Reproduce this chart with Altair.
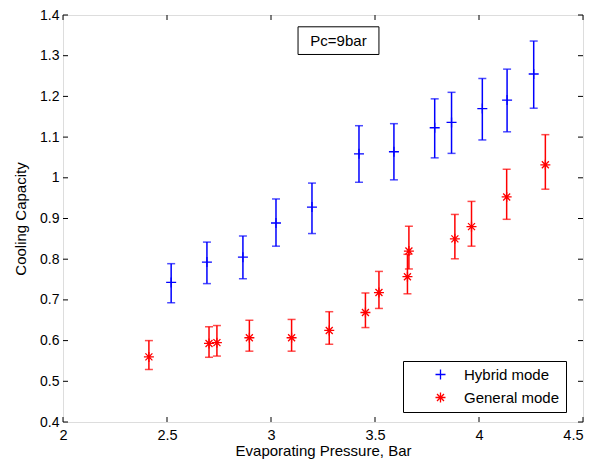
import altair as alt
import pandas as pd

# Hybrid mode (blue)
hyb_x = [2.52, 2.692, 2.865, 3.024, 3.197, 3.423, 3.591, 3.787, 3.868, 4.016, 4.135, 4.263]
hyb_y = [0.743, 0.793, 0.805, 0.889, 0.928, 1.059, 1.064, 1.123, 1.136, 1.170, 1.191, 1.255]
hyb_lo = [0.693, 0.740, 0.752, 0.832, 0.863, 0.989, 0.995, 1.049, 1.060, 1.093, 1.113, 1.171]
hyb_hi = [0.789, 0.842, 0.857, 0.948, 0.987, 1.128, 1.133, 1.194, 1.210, 1.244, 1.267, 1.336]

# General mode (red)
gen_x = [2.413, 2.702, 2.740, 2.896, 3.099, 3.280, 3.454, 3.519, 3.656, 3.663, 3.884, 3.964, 4.133, 4.319]
gen_y = [0.560, 0.593, 0.595, 0.607, 0.607, 0.625, 0.669, 0.718, 0.757, 0.820, 0.850, 0.880, 0.953, 1.032]
gen_lo = [0.529, 0.559, 0.562, 0.574, 0.574, 0.591, 0.632, 0.679, 0.715, 0.776, 0.801, 0.832, 0.898, 0.972]
gen_hi = [0.600, 0.634, 0.637, 0.650, 0.652, 0.671, 0.717, 0.770, 0.812, 0.881, 0.910, 0.942, 1.021, 1.106]

series_names = ["Hybrid mode", "General mode"]
series_colors = ["#0000ff", "#ff0000"]
x_ticks = [2, 2.5, 3, 3.5, 4, 4.5]
y_ticks = [0.4, 0.5, 0.6, 0.7, 0.8, 0.9, 1.0, 1.1, 1.2, 1.3, 1.4]

note_text = ["Pc=9bar"]
note_x = [3.13, 3.519]
note_y = [1.303, 1.371]

FONT = "Liberation Sans"
W, H = 520, 407

rows = []
for name, xs, ys, los, his in [
    (series_names[0], hyb_x, hyb_y, hyb_lo, hyb_hi),
    (series_names[1], gen_x, gen_y, gen_lo, gen_hi),
]:
    for a, b, c, d in zip(xs, ys, los, his):
        rows.append({"series": name, "x": a, "y": b, "lo": c, "hi": d})
df = pd.DataFrame(rows)

xscale = alt.Scale(domain=[2, 4.5], nice=False, zero=False)
yscale = alt.Scale(domain=[0.4, 1.4], nice=False, zero=False)
cscale = alt.Scale(domain=series_names, range=series_colors)
plus = "M-1,0L1,0M0,-1L0,1"
star = "M-1,0L1,0M0,-1L0,1M-0.7,-0.7L0.7,0.7M-0.7,0.7L0.7,-0.7"
sscale = alt.Scale(domain=series_names, range=[plus, star])

xaxis = alt.Axis(title="Evaporating Pressure, Bar", values=x_ticks, format="~g", grid=False,
                 ticks=False, domain=False, labelFontSize=14.5, labelPadding=6,
                 labelAlign=alt.expr("datum.value >= 4.5 ? 'right' : 'center'"),
                 titleFontSize=15, titleFontWeight="normal", titlePadding=2, labelColor="black",
                 titleColor="black", labelFlush=False)
yaxis = alt.Axis(title="Cooling Capacity", values=y_ticks, format="~g", grid=False,
                 ticks=False, domain=False, labelFontSize=14, labelPadding=4,
                 titleFontSize=15, titleFontWeight="normal", titlePadding=11, labelColor="black",
                 titleColor="black", labelFlush=False)

layers = []

# inward tick marks on all four sides
xt = pd.DataFrame({"v": x_ticks})
yt = pd.DataFrame({"v": y_ticks})
layers.append(alt.Chart(xt).mark_rule(color="black", strokeWidth=1).encode(
    x=alt.X("v:Q", scale=xscale, axis=xaxis), y=alt.value(H), y2=alt.value(H - 5)))
layers.append(alt.Chart(xt).mark_rule(color="black", strokeWidth=1).encode(
    x="v:Q", y=alt.value(0), y2=alt.value(5)))
layers.append(alt.Chart(yt).mark_rule(color="black", strokeWidth=1).encode(
    y=alt.Y("v:Q", scale=yscale, axis=yaxis), x=alt.value(0), x2=alt.value(5)))
layers.append(alt.Chart(yt).mark_rule(color="black", strokeWidth=1).encode(
    y="v:Q", x=alt.value(W), x2=alt.value(W - 5)))

# error bars per series
for name, col in zip(series_names, series_colors):
    sub = alt.Chart(df).transform_filter(alt.datum.series == name)
    layers.append(sub.mark_rule(strokeWidth=1.5, color=col).encode(
        x="x:Q", y="lo:Q", y2="hi:Q"))
    layers.append(sub.mark_tick(orient="horizontal", size=8, thickness=1.5, color=col).encode(
        x="x:Q", y="lo:Q"))
    layers.append(sub.mark_tick(orient="horizontal", size=8, thickness=1.5, color=col).encode(
        x="x:Q", y="hi:Q"))

legend = alt.Legend(title=None, orient="none", legendX=340, legendY=346, strokeColor="black",
                    fillColor="white", padding=6, symbolSize=100, symbolStrokeWidth=1.3,
                    labelFontSize=15, labelColor="black", rowPadding=6, symbolOffset=24,
                    labelOffset=16, cornerRadius=0)
layers.append(alt.Chart(df).mark_point(filled=False, size=100, strokeWidth=1.3, opacity=1).encode(
    x="x:Q", y="y:Q",
    color=alt.Color("series:N", scale=cscale, legend=legend),
    shape=alt.Shape("series:N", scale=sscale, legend=legend),
))

note_df = pd.DataFrame({"x": [note_x[0]], "x2": [note_x[1]], "y": [note_y[0]], "y2": [note_y[1]],
                        "tx": [(note_x[0] + note_x[1]) / 2], "ty": [(note_y[0] + note_y[1]) / 2],
                        "t": note_text})
layers.append(alt.Chart(note_df).mark_rect(fill="white", stroke="black", strokeWidth=1).encode(
    x="x:Q", x2="x2:Q", y="y:Q", y2="y2:Q"))
layers.append(alt.Chart(note_df).mark_text(fontSize=15, font=FONT, color="black", baseline="middle",
                                           align="center").encode(x="tx:Q", y="ty:Q", text="t:N"))

chart = alt.layer(*layers).properties(
    width=W, height=H,
    autosize=alt.AutoSizeParams(type="none"),
    padding={"left": 55, "top": 7, "right": 2, "bottom": 40},
).configure_view(
    stroke="black", strokeWidth=1
).configure(
    font=FONT, background="white"
)

chart.save("out.html", embed_options={"renderer": "svg", "actions": False})
